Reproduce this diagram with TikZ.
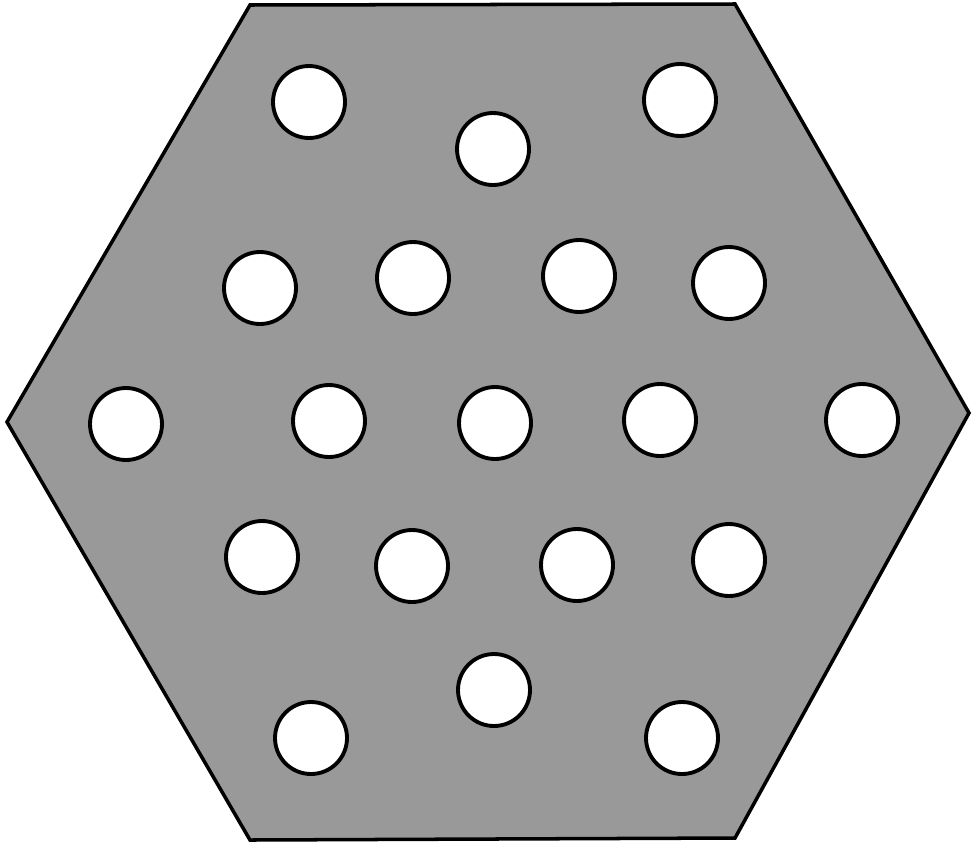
\documentclass[tikz,border=0pt]{standalone}
\usepackage{tikz}
\usetikzlibrary{positioning}
\tikzset{
  plate/.style={draw=black,fill=black!40,line width=2pt,line join=miter},
  hole/.style={circle,draw=black,fill=white,line width=2.2pt,inner sep=0pt,
    minimum size=1.44cm},
}

\begin{document}
\begin{tikzpicture}[x=0.02cm,y=-0.02cm]
  \useasboundingbox (0,0) rectangle (972,842);
  % hexagon corners
  \coordinate (tl) at (250,5);
  \coordinate (tr) at (735,4);
  \coordinate (r) at (969,413);
  \coordinate (br) at (735,838);
  \coordinate (bl) at (250,840);
  \coordinate (l) at (7,422);
  \draw[plate] (tl) -- (tr) -- (r) -- (br) -- (bl) -- (l) -- cycle;
  % holes, top to bottom
  \node[hole] (h1) at (309,102) {};
  \node[hole] (h2) at (680,100) {};
  \node[hole] (h3) at (493,149) {};
  \node[hole] (h4) at (260,288) {};
  \node[hole] (h5) at (413,278) {};
  \node[hole] (h6) at (579,276) {};
  \node[hole] (h7) at (729,283) {};
  \node[hole] (h8) at (126,424) {};
  \node[hole] (h9) at (329,421) {};
  \node[hole] (h10) at (495,423) {};
  \node[hole] (h11) at (660,420) {};
  \node[hole] (h12) at (862,420) {};
  \node[hole] (h13) at (262,557) {};
  \node[hole] (h14) at (412,566) {};
  \node[hole] (h15) at (577,565) {};
  \node[hole] (h16) at (729,560) {};
  \node[hole] (h17) at (494,690) {};
  \node[hole] (h18) at (311,738) {};
  \node[hole] (h19) at (682,738) {};
\end{tikzpicture}
\end{document}
